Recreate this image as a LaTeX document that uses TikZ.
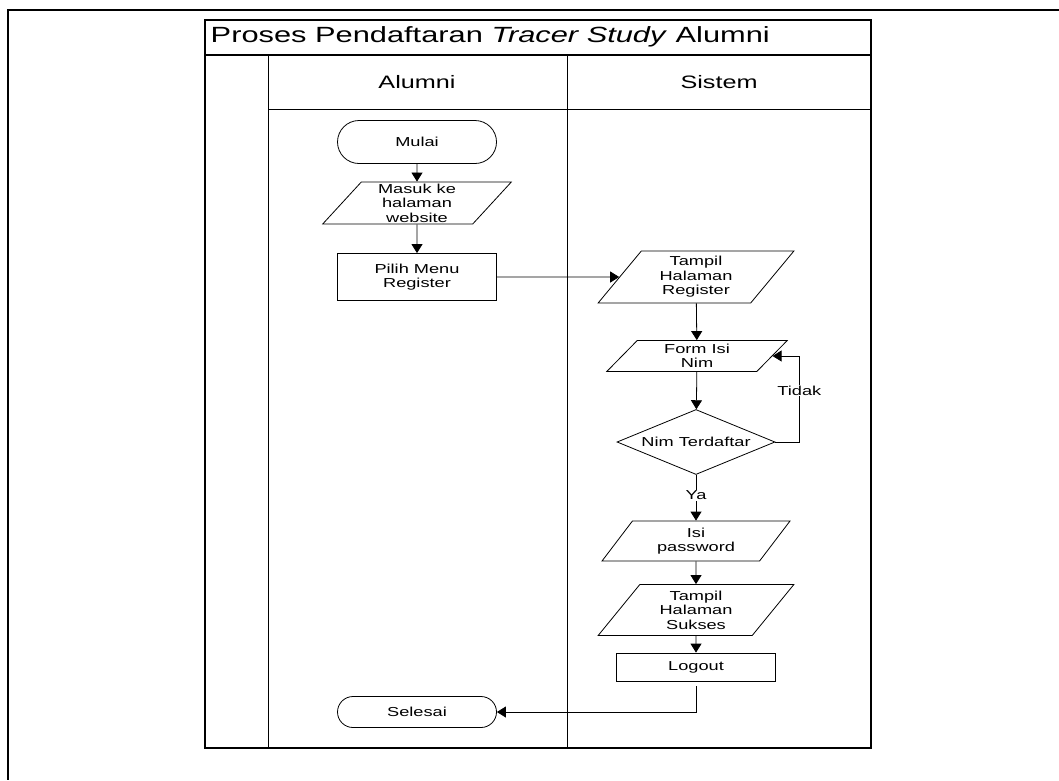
\documentclass[tikz,border=0pt]{standalone}
\usepackage{fontspec}
\setmainfont[FakeStretch=1.4]{Liberation Sans}
\usetikzlibrary{arrows.meta,shapes.geometric,shapes.misc,positioning}

\begin{document}
\begin{tikzpicture}[x=1pt,y=-1pt,line width=.8pt,
    font=\fontsize{13}{14.5}\selectfont,
    terminal/.style={rounded rectangle,draw,minimum width=159pt,minimum height=31pt,inner sep=0pt},
    io/.style={trapezium,trapezium left angle=55,trapezium right angle=125,
      trapezium stretches=true,draw,align=center,minimum width=190pt,inner sep=0pt},
    proc/.style={rectangle,draw,align=center,minimum width=159pt},
    decision/.style={diamond,draw,aspect=2.43,minimum width=158pt,minimum height=65pt,inner sep=0pt},
    arr/.style={-{Triangle[length=9pt,width=11pt]}},
    frame/.style={line width=1.5pt}]

        \useasboundingbox (0,0) rectangle (1059,780);

        % outer border
        \draw[frame] (1059,10) -- (8,10) -- (8,780);

        % swimlanes
        \draw[frame] (205,20) rectangle (871,748);
        \draw[frame] (205,55) -- (871,55);
        \draw (268,109) -- (871,109);
        \draw (268,55) -- (268,748);
        \draw (567,55) -- (567,748);

        \node[anchor=west,font=\fontsize{22}{24}\selectfont] (judul) at (207,37)
            {Proses Pendaftaran \textit{Tracer Study} Alumni};
        \node[font=\fontsize{18}{20}\selectfont] (alumni) at (417,82) {Alumni};
        \node[font=\fontsize{18}{20}\selectfont] (sistem) at (719,82) {Sistem};

        % alumni lane
        \node[terminal,minimum height=43pt] (mulai) at (417,142) {Mulai};
        \node[io,minimum height=42pt,minimum width=189pt] (masuk) at (417,203) {Masuk ke\\halaman\\website};
        \node[proc,minimum height=47pt] (pilih) at (417,277) {Pilih Menu\\Register};
        \node[terminal] (selesai) at (417,712) {Selesai};

        % sistem lane
        \node[io,minimum height=52pt,minimum width=196pt] (tampilreg) at (696,277) {Tampil\\Halaman\\Register};
        \node[io,minimum height=31pt,minimum width=182pt] (formnim) at (697,356) {Form Isi\\Nim};
        \node[decision] (cek) at (696,442) {Nim Terdaftar};
        \node[io,minimum height=40pt,minimum width=188pt] (isipass) at (696,541) {Isi\\password};
        \node[io,minimum height=51pt,minimum width=196pt] (sukses) at (696,610) {Tampil\\Halaman\\Sukses};
        \node[proc,minimum height=28pt] (logout) at (696,667) {Logout};

        \draw[arr] (mulai) -- (masuk);
        \draw[arr] (masuk) -- (pilih);
        \draw[arr] (pilih) -- (tampilreg);
        \draw[arr] (tampilreg) -- (formnim);
        \draw[arr] (formnim) -- (cek);
        \draw[arr] (cek.east) -- ++(24,0) |- node[pos=.3,fill=white,inner sep=1pt] {Tidak} (formnim.east);
        \draw[arr] (cek) -- node[pos=.45,fill=white,inner sep=1pt] {Ya} (isipass);
        \draw[arr] (isipass) -- (sukses);
        \draw[arr] (sukses) -- (logout);
        \draw[arr,shorten <=5pt] (logout.south) |- (selesai.east);

\end{tikzpicture}
\end{document}
